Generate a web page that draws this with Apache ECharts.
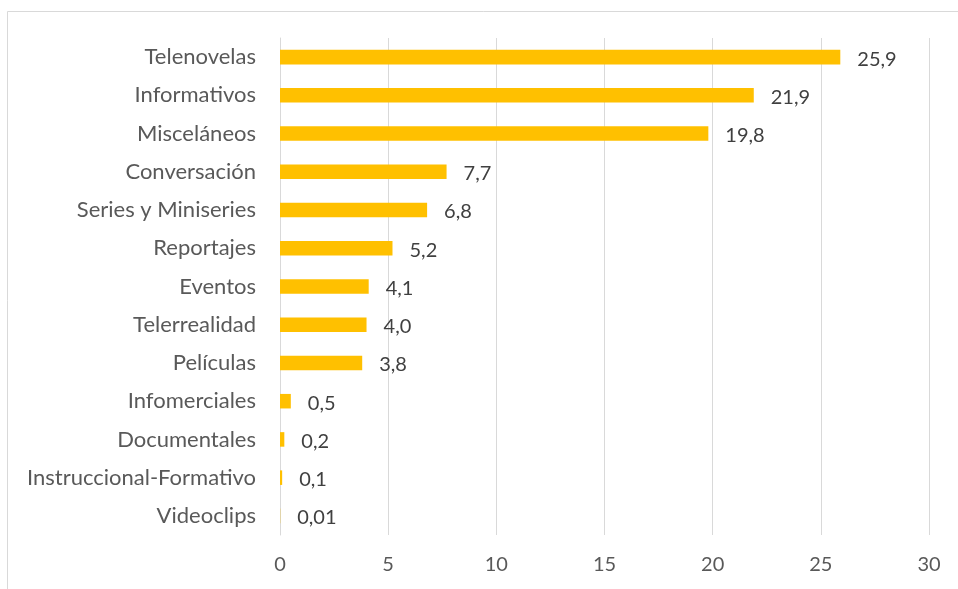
<!DOCTYPE html>
<html>
<head>
<meta charset="utf-8">
<style>
  html, body { margin: 0; padding: 0; background: #ffffff; }
  #chart { width: 958px; height: 589px; }
</style>
<script src="https://cdn.jsdelivr.net/npm/echarts@6/dist/echarts.min.js"></script>
</head>
<body>
<div id="chart"></div>
<script>
// Genres, listed top to bottom
const categories = [
  'Telenovelas', 'Informativos', 'Misceláneos', 'Conversación',
  'Series y Miniseries', 'Reportajes', 'Eventos', 'Telerrealidad',
  'Películas', 'Infomerciales', 'Documentales',
  'Instruccional-Formativo', 'Videoclips'
];
// Share (%) for each genre
const values = [25.9, 21.9, 19.8, 7.7, 6.8, 5.2, 4.1, 4.0, 3.8, 0.5, 0.2, 0.1, 0.01];
// Decimal places shown in each value label
const decimals = [1, 1, 1, 1, 1, 1, 1, 1, 1, 1, 1, 1, 2];
// X axis range
const xTicks = { min: 0, max: 30, interval: 5 };

const FONT = 'Lato';
const chart = echarts.init(document.getElementById('chart'));

chart.setOption({
  backgroundColor: '#ffffff',
  animation: false,
  graphic: [{
    type: 'rect',
    left: 5, top: 9,
    shape: { width: 1000, height: 1000 },
    style: { fill: 'none', stroke: '#d9d9d9', lineWidth: 1 },
    silent: true
  }],
  grid: { left: 280, right: 29, top: 38, bottom: 54, containLabel: false },
  xAxis: {
    type: 'value',
    min: xTicks.min, max: xTicks.max, interval: xTicks.interval,
    axisLine: { show: false },
    axisTick: { show: false },
    axisLabel: { color: '#595959', fontSize: 20, fontFamily: FONT, margin: 20 },
    splitLine: { show: true, lineStyle: { color: '#d9d9d9', width: 1 } }
  },
  yAxis: {
    type: 'category',
    data: categories,
    inverse: true,
    axisLine: { show: true, lineStyle: { color: '#d9d9d9', width: 1 } },
    axisTick: { show: false },
    axisLabel: { color: '#595959', fontSize: 22, fontFamily: FONT, margin: 24 }
  },
  series: [{
    type: 'bar',
    data: values,
    barWidth: '38%',
    itemStyle: { color: '#ffc000' },
    label: {
      show: true,
      position: 'right',
      distance: 17,
      offset: [0, 2],
      color: '#404040',
      fontSize: 20,
      fontFamily: FONT,
      formatter: p => p.value.toFixed(decimals[p.dataIndex]).replace('.', ',')
    }
  }]
});
</script>
</body>
</html>
